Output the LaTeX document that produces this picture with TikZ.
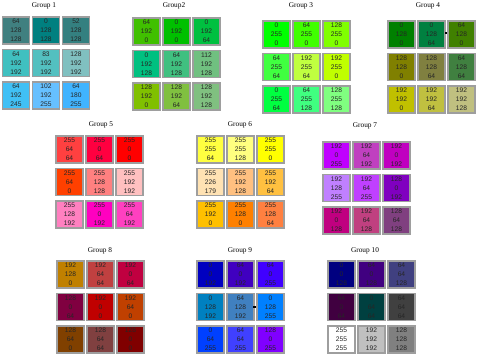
\documentclass[tikz,border=0pt]{standalone}
\usepackage{fontspec}
\setmainfont{Liberation Serif}
\newfontfamily\numfont{Liberation Sans}
\usetikzlibrary{positioning}

% one group: name, title, title x, title y, first box x, first box y, list r/g/b
\newcommand{\swatchgroup}[7]{%
  \node[grouptitle] (#1title) at (#3,#4) {#2};
  \foreach \vr/\vg/\vb [count=\k from 0] in {#7}{
    \pgfmathtruncatemacro\col{mod(\k,3)}
    \pgfmathtruncatemacro\row{div(\k,3)}
    \node[swatch,fill={rgb,255:red,\vr;green,\vg;blue,\vb}] (#1-\k)
      at (#5+13.5+30*\col,#6+13.5+32.5*\row) {\vr\\\vg\\\vb};
  }%
}

\begin{document}
\begin{tikzpicture}[x=0.75pt,y=-0.75pt,
  swatch/.style={draw=black!38,line width=0.8pt,minimum width=20.25pt,minimum height=20.25pt,
    inner sep=0pt,align=center,text=black!85,font=\numfont\fontsize{5}{6.6}\selectfont},
  grouptitle/.style={font=\fontsize{5.5}{6.5}\selectfont,inner sep=0pt},
  blot/.style={fill=black,minimum width=2pt,minimum height=1.2pt,inner sep=0pt}]
  \useasboundingbox (0,0) rectangle (480,357);
  \swatchgroup{g1}{Group 1}{44}{6}{2.5}{17}{64/128/128,0/128/128,52/128/128,
    64/192/192,83/192/192,128/192/192,64/192/245,102/192/255,64/180/255}
  \swatchgroup{g2}{Group2}{174}{6}{133}{18}{64/192/0,0/192/0,0/192/64,
    0/192/128,64/192/128,112/192/128,128/192/0,128/192/64,128/192/128}
  \swatchgroup{g3}{Group 3}{301}{6}{263}{21}{0/255/0,64/255/0,128/255/0,
    64/255/64,192/255/64,192/255/0,0/255/64,64/255/128,128/255/128}
  \swatchgroup{g4}{Group 4}{428}{6}{388}{21}{0/128/0,0/128/64,64/128/0,
    128/128/0,128/128/64,64/128/64,192/192/0,192/192/64,192/192/128}
  \swatchgroup{g5}{Group 5}{101}{125}{56}{136}{255/64/64,255/0/64,255/0/0,
    255/64/0,255/128/128,255/192/192,255/128/192,255/0/192,255/64/192}
  \swatchgroup{g6}{Group 6}{240}{125}{197}{136}{255/255/64,255/255/128,255/255/0,
    255/226/179,255/192/128,255/192/64,255/192/0,255/128/0,255/128/64}
  \swatchgroup{g7}{Group 7}{365}{126}{323}{142}{192/0/255,192/64/192,192/0/192,
    192/128/255,192/64/255,128/0/192,192/0/128,192/64/128,128/64/128}
  \swatchgroup{g8}{Group 8}{100}{251}{57}{261}{192/128/0,192/64/64,192/0/64,
    128/0/64,192/0/0,192/64/0,128/64/0,128/64/64,128/0/0}
  \swatchgroup{g9}{Group 9}{240}{251}{197}{261}{0/0/192,64/0/192,64/0/255,
    0/128/192,64/128/192,0/128/255,0/64/255,64/64/255,128/0/255}
  \swatchgroup{g10}{Group 10}{365}{251}{328}{261}{0/0/128,64/0/128,64/64/128,
    64/0/64,0/64/64,64/64/64,255/255/255,192/192/192,128/128/128}
  \node[blot] (g4dash) at (446,33) {};
  \node[blot] (g9dash) at (254.5,307) {};
\end{tikzpicture}
\end{document}
